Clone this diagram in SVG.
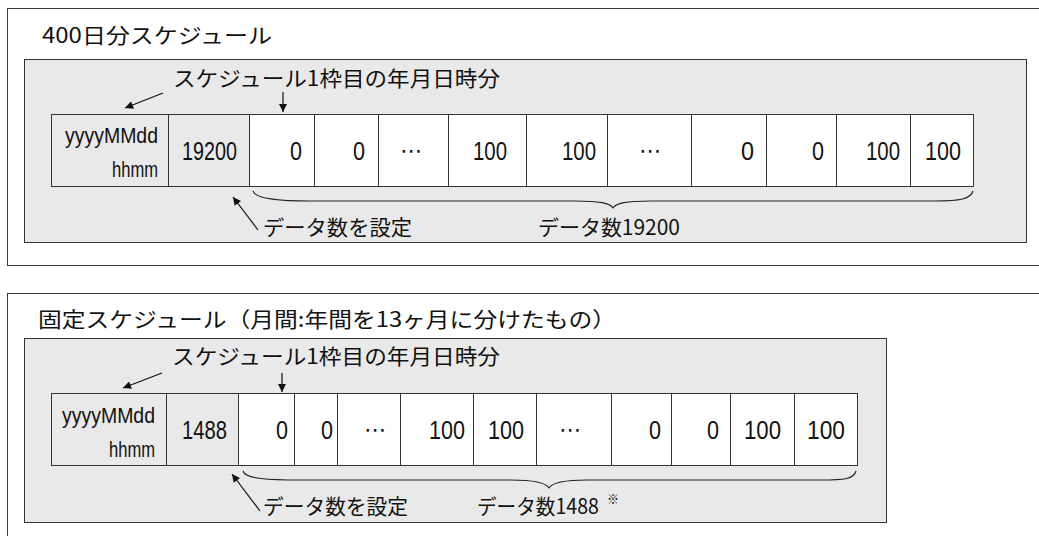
<svg xmlns="http://www.w3.org/2000/svg" width="1039" height="536" viewBox="0 0 1039 536">
<defs>
<style>
.frame{fill:#ffffff;stroke:#3a3a3a;stroke-width:1}
.inner{fill:#e9e9e9;stroke:#333333;stroke-width:1}
.gc{fill:#e9e9e9;stroke:#333333;stroke-width:1}
.wc{fill:#ffffff;stroke:#333333;stroke-width:1}
.jp{font-family:"Noto Sans CJK JP","Noto Sans CJK SC",sans-serif;font-size:21px;fill:#111111}
.num{font-family:"Liberation Sans",Arial,sans-serif;font-size:25px;fill:#111111}
.ym{font-family:"Liberation Sans",Arial,sans-serif;font-size:22px;fill:#111111}
.dots{font-family:"DejaVu Sans",sans-serif;font-size:22px;fill:#111111}
.ar{fill:none;stroke:#111111;stroke-width:1.2}
.br{fill:none;stroke:#222222;stroke-width:1.1}
</style>
<marker id="ah" viewBox="0 0 10 10" refX="10" refY="5" markerWidth="9" markerHeight="8" orient="auto" markerUnits="userSpaceOnUse">
<path d="M0,0 L10,5 L0,10 z" fill="#111111"/>
</marker>
</defs>

<rect width="1039" height="536" fill="#ffffff"/>

<!-- Top panel -->
<g id="panel-400">
<rect class="frame" x="7.5" y="8.5" width="1100" height="257"/>
<text class="jp" x="42" y="43" textLength="230" lengthAdjust="spacingAndGlyphs">400日分スケジュール</text>
<rect class="inner" x="24.5" y="59.5" width="1002" height="183"/>
</g>

<g id="label-top-start">
<text class="jp" x="173" y="86" textLength="327" lengthAdjust="spacingAndGlyphs">スケジュール1枠目の年月日時分</text>
</g>

<g id="row-top">
<rect class="gc" x="51.5" y="114.5" width="117" height="72"/>
<text class="ym" x="65" y="143" textLength="93" lengthAdjust="spacingAndGlyphs">yyyyMMdd</text>
<text class="ym" x="112" y="177" textLength="46" lengthAdjust="spacingAndGlyphs">hhmm</text>
<rect class="gc" x="168.5" y="114.5" width="81" height="72"/>
<text class="num" x="182" y="160" textLength="55" lengthAdjust="spacingAndGlyphs">19200</text>
<rect class="wc" x="249.5" y="114.5" width="65" height="72"/>
<text class="num" x="290" y="160" textLength="12" lengthAdjust="spacingAndGlyphs">0</text>
<rect class="wc" x="314.5" y="114.5" width="64" height="72"/>
<text class="num" x="353" y="160" textLength="12" lengthAdjust="spacingAndGlyphs">0</text>
<rect class="wc" x="378.5" y="114.5" width="70" height="72"/>
<text class="dots" x="411" y="158" text-anchor="middle">⋯</text>
<rect class="wc" x="448.5" y="114.5" width="78" height="72"/>
<text class="num" x="473" y="160" textLength="34" lengthAdjust="spacingAndGlyphs">100</text>
<rect class="wc" x="526.5" y="114.5" width="81" height="72"/>
<text class="num" x="562" y="160" textLength="34" lengthAdjust="spacingAndGlyphs">100</text>
<rect class="wc" x="607.5" y="114.5" width="84" height="72"/>
<text class="dots" x="650" y="158" text-anchor="middle">⋯</text>
<rect class="wc" x="691.5" y="114.5" width="75" height="72"/>
<text class="num" x="741" y="160" textLength="13" lengthAdjust="spacingAndGlyphs">0</text>
<rect class="wc" x="766.5" y="114.5" width="70" height="72"/>
<text class="num" x="812" y="160" textLength="12" lengthAdjust="spacingAndGlyphs">0</text>
<rect class="wc" x="836.5" y="114.5" width="74" height="72"/>
<text class="num" x="866" y="160" textLength="34" lengthAdjust="spacingAndGlyphs">100</text>
<rect class="wc" x="910.5" y="114.5" width="63" height="72"/>
<text class="num" x="925" y="160" textLength="36" lengthAdjust="spacingAndGlyphs">100</text>
</g>

<g id="label-top-count">
<text class="jp" x="263" y="235" textLength="149" lengthAdjust="spacingAndGlyphs">データ数を設定</text>
</g>
<g id="label-top-total">
<text class="jp" x="538" y="235" textLength="142" lengthAdjust="spacingAndGlyphs">データ数19200</text>
</g>

<!-- Bottom panel -->
<g id="panel-fixed">
<rect class="frame" x="7.5" y="293.5" width="1100" height="300"/>
<text class="jp" x="38" y="327" textLength="578" lengthAdjust="spacingAndGlyphs">固定スケジュール（月間:年間を13ヶ月に分けたもの）</text>
<rect class="inner" x="24.5" y="338.5" width="862" height="184"/>
</g>

<g id="label-bottom-start">
<text class="jp" x="172" y="364" textLength="328" lengthAdjust="spacingAndGlyphs">スケジュール1枠目の年月日時分</text>
</g>

<g id="row-bottom">
<rect class="gc" x="51.5" y="393.5" width="115" height="72"/>
<text class="ym" x="62" y="423" textLength="93" lengthAdjust="spacingAndGlyphs">yyyyMMdd</text>
<text class="ym" x="109" y="457" textLength="46" lengthAdjust="spacingAndGlyphs">hhmm</text>
<rect class="gc" x="166.5" y="393.5" width="72" height="72"/>
<text class="num" x="182" y="439" textLength="45" lengthAdjust="spacingAndGlyphs">1488</text>
<rect class="wc" x="238.5" y="393.5" width="56" height="72"/>
<text class="num" x="276" y="439" textLength="12" lengthAdjust="spacingAndGlyphs">0</text>
<rect class="wc" x="294.5" y="393.5" width="43" height="72"/>
<text class="num" x="321" y="439" textLength="12" lengthAdjust="spacingAndGlyphs">0</text>
<rect class="wc" x="337.5" y="393.5" width="63" height="72"/>
<text class="dots" x="375" y="437" text-anchor="middle">⋯</text>
<rect class="wc" x="400.5" y="393.5" width="73" height="72"/>
<text class="num" x="429" y="439" textLength="36" lengthAdjust="spacingAndGlyphs">100</text>
<rect class="wc" x="473.5" y="393.5" width="63" height="72"/>
<text class="num" x="488" y="439" textLength="36" lengthAdjust="spacingAndGlyphs">100</text>
<rect class="wc" x="536.5" y="393.5" width="75" height="72"/>
<text class="dots" x="570" y="437" text-anchor="middle">⋯</text>
<rect class="wc" x="611.5" y="393.5" width="60" height="72"/>
<text class="num" x="649" y="439" textLength="12" lengthAdjust="spacingAndGlyphs">0</text>
<rect class="wc" x="671.5" y="393.5" width="59" height="72"/>
<text class="num" x="707" y="439" textLength="12" lengthAdjust="spacingAndGlyphs">0</text>
<rect class="wc" x="730.5" y="393.5" width="64" height="72"/>
<text class="num" x="744" y="439" textLength="37" lengthAdjust="spacingAndGlyphs">100</text>
<rect class="wc" x="794.5" y="393.5" width="63" height="72"/>
<text class="num" x="807" y="439" textLength="38" lengthAdjust="spacingAndGlyphs">100</text>
</g>

<g id="label-bottom-count">
<text class="jp" x="263" y="514" textLength="145" lengthAdjust="spacingAndGlyphs">データ数を設定</text>
</g>
<g id="label-bottom-total">
<text class="jp" x="477" y="514" textLength="122" lengthAdjust="spacingAndGlyphs">データ数1488</text>
<text x="607" y="504" font-family="Noto Sans CJK JP, sans-serif" font-size="12" fill="#000000">※</text>
</g>

<!-- Connectors -->
<g id="connectors">
<line class="ar" x1="163" y1="93" x2="125" y2="108" marker-end="url(#ah)"/>
<line class="ar" x1="283" y1="92" x2="283" y2="112" marker-end="url(#ah)"/>
<line class="ar" x1="258" y1="230" x2="233" y2="197" marker-end="url(#ah)"/>
<path class="br" d="M253,191 C255,199 280,201 310,201 L575,201 C600,201 610,203 613,208 C616,203 626,201 651,201 L935,201 C960,201 971,199 973,191"/>

<line class="ar" x1="162" y1="373" x2="123" y2="388" marker-end="url(#ah)"/>
<line class="ar" x1="282" y1="373" x2="282" y2="392" marker-end="url(#ah)"/>
<line class="ar" x1="260" y1="511" x2="232" y2="474" marker-end="url(#ah)"/>
<path class="br" d="M243,471 C245,479 270,480 300,480 L511,480 C536,480 546,483 549,488 C552,483 562,480 587,480 L820,480 C845,480 854,479 856,471"/>
</g>
</svg>
